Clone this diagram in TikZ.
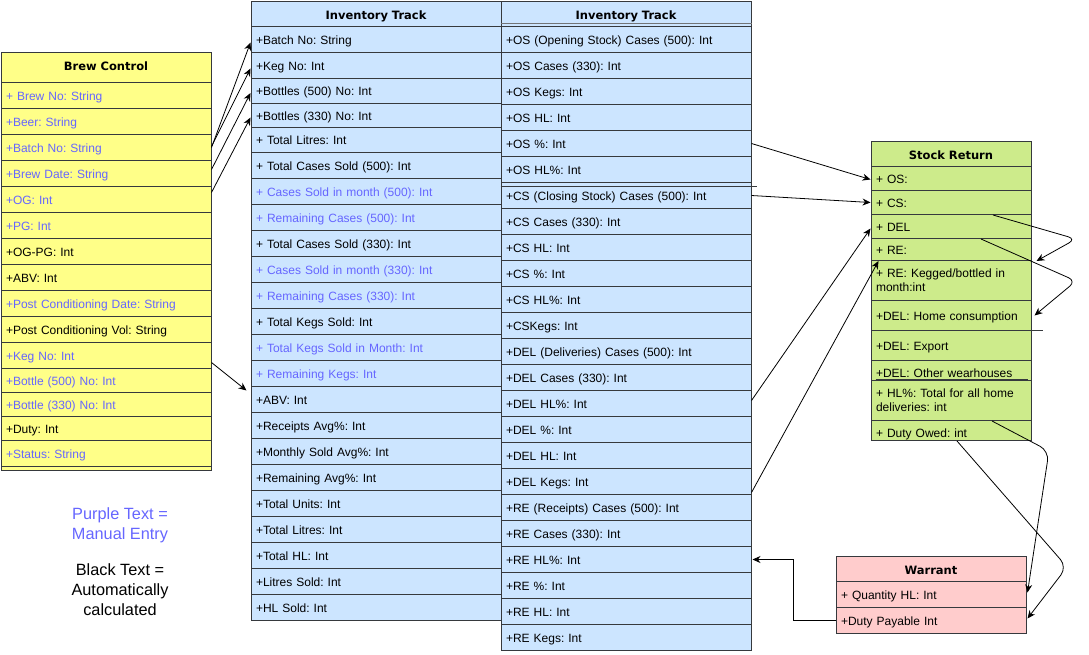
\documentclass[tikz,border=0pt]{standalone}
\usepackage{fontspec}
\setmainfont{Liberation Sans}
\newfontfamily\hdfont{DejaVu Sans}
\usetikzlibrary{arrows.meta,calc}
\definecolor{strk}{HTML}{36393D}
\definecolor{bcf}{HTML}{FFFF88}
\definecolor{invf}{HTML}{CCE5FF}
\definecolor{srf}{HTML}{CDEB8B}
\definecolor{wrf}{HTML}{FFCCCC}
\definecolor{purp}{HTML}{6666FF}
\newcommand\fsz{\fontsize{12}{14.4}\selectfont\frenchspacing}
\newcommand\hfsz{\hdfont\bfseries\fontsize{11.5}{14}\selectfont}
\newcommand\rowb[6]{\node[#1, minimum height=#5pt] (#2) at (#3,#4) {#6};}
\tikzset{
  cell/.style={draw=strk, line width=1pt, anchor=north west, inner xsep=5pt, inner ysep=0pt,
    align=left, font=\fsz, text height=10pt, text depth=0.4pt},
  bc/.style={cell, fill=bcf, text width=200pt},
  inv/.style={cell, fill=invf, text width=240pt},
  sr/.style={cell, fill=srf, text width=150pt},
  wr/.style={cell, fill=wrf, text width=180pt},
  hd/.style={font=\hfsz, align=center, text height=11.4pt},
  pt/.style={text=purp},
  two/.style={text height={}, text depth={}},
  conn/.style={draw=black, line width=0.8pt, -{Stealth[length=8pt,width=7pt]}},
  legend/.style={font=\fontsize{16.3}{20}\selectfont, align=center, inner sep=0pt}
}
\begin{document}
\begin{tikzpicture}[x=1pt,y=-1pt]
\useasboundingbox (0,0) rectangle (1089,654);

% ---------------- Brew Control ----------------
\node[draw=strk, line width=1pt, fill=bcf, anchor=north west, minimum width=210pt,
  minimum height=418pt, inner sep=0pt] (brew) at (0.5,52) {};
\rowb{bc,hd,text height=5.6pt}{b0}{0.5}{52}{30}{Brew Control}
\rowb{bc,pt}{b1}{0.5}{82}{26}{+ Brew No: String}
\rowb{bc,pt}{b2}{0.5}{108}{26}{+Beer: String}
\rowb{bc,pt}{b3}{0.5}{134}{26}{+Batch No: String}
\rowb{bc,pt}{b4}{0.5}{160}{26}{+Brew Date: String}
\rowb{bc,pt}{b5}{0.5}{186}{26}{+OG: Int}
\rowb{bc,pt}{b6}{0.5}{212}{26}{+PG: Int}
\rowb{bc}{b7}{0.5}{238}{26}{+OG-PG: Int}
\rowb{bc}{b8}{0.5}{264}{26}{+ABV: Int}
\rowb{bc,pt}{b9}{0.5}{290}{26}{+Post Conditioning Date: String}
\rowb{bc}{b10}{0.5}{316}{26}{+Post Conditioning Vol: String}
\rowb{bc,pt}{b11}{0.5}{342}{26}{+Keg No: Int}
\rowb{bc,pt}{b12}{0.5}{368}{24}{+Bottle (500) No: Int}
\rowb{bc,pt}{b13}{0.5}{392}{24}{+Bottle (330) No: Int}
\rowb{bc}{b14}{0.5}{416}{24}{+Duty: Int}
\rowb{bc,pt}{b15}{0.5}{440}{26}{+Status: String}

% ---------------- Inventory Track (left) ----------------
\rowb{inv,hd}{i0}{250.5}{0.5}{25.5}{Inventory Track}
\rowb{inv}{i1}{250.5}{26}{26}{+Batch No: String}
\rowb{inv}{i2}{250.5}{52}{26}{+Keg No: Int}
\rowb{inv}{i3}{250.5}{78}{25}{+Bottles (500) No: Int}
\rowb{inv}{i4}{250.5}{103}{24}{+Bottles (330) No: Int}
\rowb{inv}{i5}{250.5}{127}{25}{+ Total Litres: Int}
\rowb{inv}{i6}{250.5}{152}{26}{+ Total Cases Sold (500): Int}
\rowb{inv,pt}{i7}{250.5}{178}{26}{+ Cases Sold in month (500): Int}
\rowb{inv,pt}{i8}{250.5}{204}{26}{+ Remaining Cases (500): Int}
\rowb{inv}{i9}{250.5}{230}{26}{+ Total Cases Sold (330): Int}
\rowb{inv,pt}{i10}{250.5}{256}{26}{+ Cases Sold in month (330): Int}
\rowb{inv,pt}{i11}{250.5}{282}{26}{+ Remaining Cases (330): Int}
\rowb{inv}{i12}{250.5}{308}{26}{+ Total Kegs Sold: Int}
\rowb{inv,pt}{i13}{250.5}{334}{26}{+ Total Kegs Sold in Month: Int}
\rowb{inv,pt}{i14}{250.5}{360}{26}{+ Remaining Kegs: Int}
\rowb{inv}{i15}{250.5}{386}{26}{+ABV: Int}
\rowb{inv}{i16}{250.5}{412}{26}{+Receipts Avg\%: Int}
\rowb{inv}{i17}{250.5}{438}{26}{+Monthly Sold Avg\%: Int}
\rowb{inv}{i18}{250.5}{464}{26}{+Remaining Avg\%: Int}
\rowb{inv}{i19}{250.5}{490}{26}{+Total Units: Int}
\rowb{inv}{i20}{250.5}{516}{26}{+Total Litres: Int}
\rowb{inv}{i21}{250.5}{542}{26}{+Total HL: Int}
\rowb{inv}{i22}{250.5}{568}{26}{+Litres Sold: Int}
\rowb{inv}{i23}{250.5}{594}{26}{+HL Sold: Int}

% ---------------- Inventory Track (right) ----------------
\rowb{inv,hd}{j0}{500.5}{0.5}{25.5}{Inventory Track}
\rowb{inv}{j1}{500.5}{26}{26}{+OS (Opening Stock) Cases (500): Int}
\rowb{inv}{j2}{500.5}{52}{26}{+OS Cases (330): Int}
\rowb{inv}{j3}{500.5}{78}{26}{+OS Kegs: Int}
\rowb{inv}{j4}{500.5}{104}{26}{+OS HL: Int}
\rowb{inv}{j5}{500.5}{130}{26}{+OS \%: Int}
\rowb{inv}{j6}{500.5}{156}{26}{+OS HL\%: Int}
\rowb{inv}{j7}{500.5}{182}{26}{+CS (Closing Stock) Cases (500): Int}
\rowb{inv}{j8}{500.5}{208}{26}{+CS Cases (330): Int}
\rowb{inv}{j9}{500.5}{234}{26}{+CS HL: Int}
\rowb{inv}{j10}{500.5}{260}{26}{+CS \%: Int}
\rowb{inv}{j11}{500.5}{286}{26}{+CS HL\%: Int}
\rowb{inv}{j12}{500.5}{312}{26}{+CSKegs: Int}
\rowb{inv}{j13}{500.5}{338}{26}{+DEL (Deliveries) Cases (500): Int}
\rowb{inv}{j14}{500.5}{364}{26}{+DEL Cases (330): Int}
\rowb{inv}{j15}{500.5}{390}{26}{+DEL HL\%: Int}
\rowb{inv}{j16}{500.5}{416}{26}{+DEL \%: Int}
\rowb{inv}{j17}{500.5}{442}{26}{+DEL HL: Int}
\rowb{inv}{j18}{500.5}{468}{26}{+DEL Kegs: Int}
\rowb{inv}{j19}{500.5}{494}{26}{+RE (Receipts) Cases (500): Int}
\rowb{inv}{j20}{500.5}{520}{26}{+RE Cases (330): Int}
\rowb{inv}{j21}{500.5}{546}{26}{+RE HL\%: Int}
\rowb{inv}{j22}{500.5}{572}{26}{+RE \%: Int}
\rowb{inv}{j23}{500.5}{598}{26}{+RE HL: Int}
\rowb{inv}{j24}{500.5}{624}{26}{+RE Kegs: Int}
\draw[strk!70, line width=1pt] ([yshift=4pt]j0.south west) -- ([yshift=4pt]j0.south east);
\draw[strk, line width=1pt] ([yshift=-4pt]j7.north west) -- ([xshift=5pt,yshift=-4pt]j7.north east);

% ---------------- Stock Return ----------------
\rowb{sr,hd}{s0}{870.5}{141}{25}{Stock Return}
\rowb{sr}{s1}{870.5}{166}{24}{+ OS:}
\rowb{sr}{s2}{870.5}{190}{24}{+ CS:}
\rowb{sr}{s3}{870.5}{214}{24}{+ DEL}
\rowb{sr}{s4}{870.5}{238}{22}{+ RE:}
\rowb{sr,two}{s5}{870.5}{260}{40}{+ RE: Kegged/bottled in\\month:int}
\rowb{sr}{s6}{870.5}{300}{30}{+DEL: Home consumption}
\rowb{sr}{s7}{870.5}{330}{30}{+DEL: Export}
\rowb{sr,text height=14.4pt}{s8}{870.5}{360}{20}{+DEL: Other wearhouses}
\rowb{sr,two}{s9}{870.5}{380}{40}{+ HL\%: Total for all home\\deliveries: int}
\rowb{sr,text height=14pt}{s10}{870.5}{420}{20}{+ Duty Owed: int}
\draw[strk, line width=1pt] (s7.north east) -- ++(11,0);
\draw[strk, line width=1pt] ([xshift=5pt,yshift=2pt]s8.south west) -- ([xshift=-4pt,yshift=2pt]s8.south east);

% ---------------- Warrant ----------------
\rowb{wr,hd}{w0}{835.5}{556}{25}{Warrant}
\rowb{wr}{w1}{835.5}{581}{26}{+ Quantity HL: Int}
\rowb{wr}{w2}{835.5}{607}{26}{+Duty Payable Int}

% ---------------- Legend ----------------
\node[legend, text=purp] (leg1) at (120,525) {Purple Text =\\Manual Entry};
\node[legend] (leg2) at (120,589.5) {Black Text =\\Automatically\\calculated};

% ---------------- Connectors ----------------
\draw[conn] (b3.east) -- ([yshift=-3pt]i1.west);
\draw[conn] ([yshift=1pt]b3.east) -- ([yshift=-3pt]i2.west);
\draw[conn] ([yshift=4pt]b4.east) -- ([yshift=-2pt]i3.west);
\draw[conn] ([yshift=7pt]b5.east) -- ([yshift=-2pt]i4.west);
\draw[conn] ([yshift=-7pt]b11.east) -- ([xshift=-4pt,yshift=9pt]i15.west);

\draw[conn] (j5.east) -- ([yshift=-1pt]s1.west);
\draw[conn] (j7.east) -- (s2.west);
\draw[conn] ([yshift=3pt]j15.east) -- ([yshift=-2pt]s3.west);
\draw[conn] ([yshift=-11pt]j18.east) -- ([xshift=8pt]s4.south west);

\draw[conn, rounded corners=8pt] ([xshift=42pt]s2.south) -- ++(83,24) -- ([xshift=5pt]s4.south east);
\draw[conn, rounded corners=8pt] ([xshift=30pt]s3.south) -- ++(95,42) -- ([xshift=3pt]s6.east);
\draw[conn, rounded corners=10pt] ([xshift=41pt]s9.south) -- ++(57,30) -- ([xshift=1pt,yshift=2pt]w1.east);
\draw[conn, rounded corners=10pt] ([xshift=6pt]s10.south) -- ++(110,126) -- ([xshift=1pt,yshift=2pt]w2.east);

\draw[conn] (w2.west) -- ++(-42,0) |- ([xshift=1pt]j21.east);
\end{tikzpicture}
\end{document}
